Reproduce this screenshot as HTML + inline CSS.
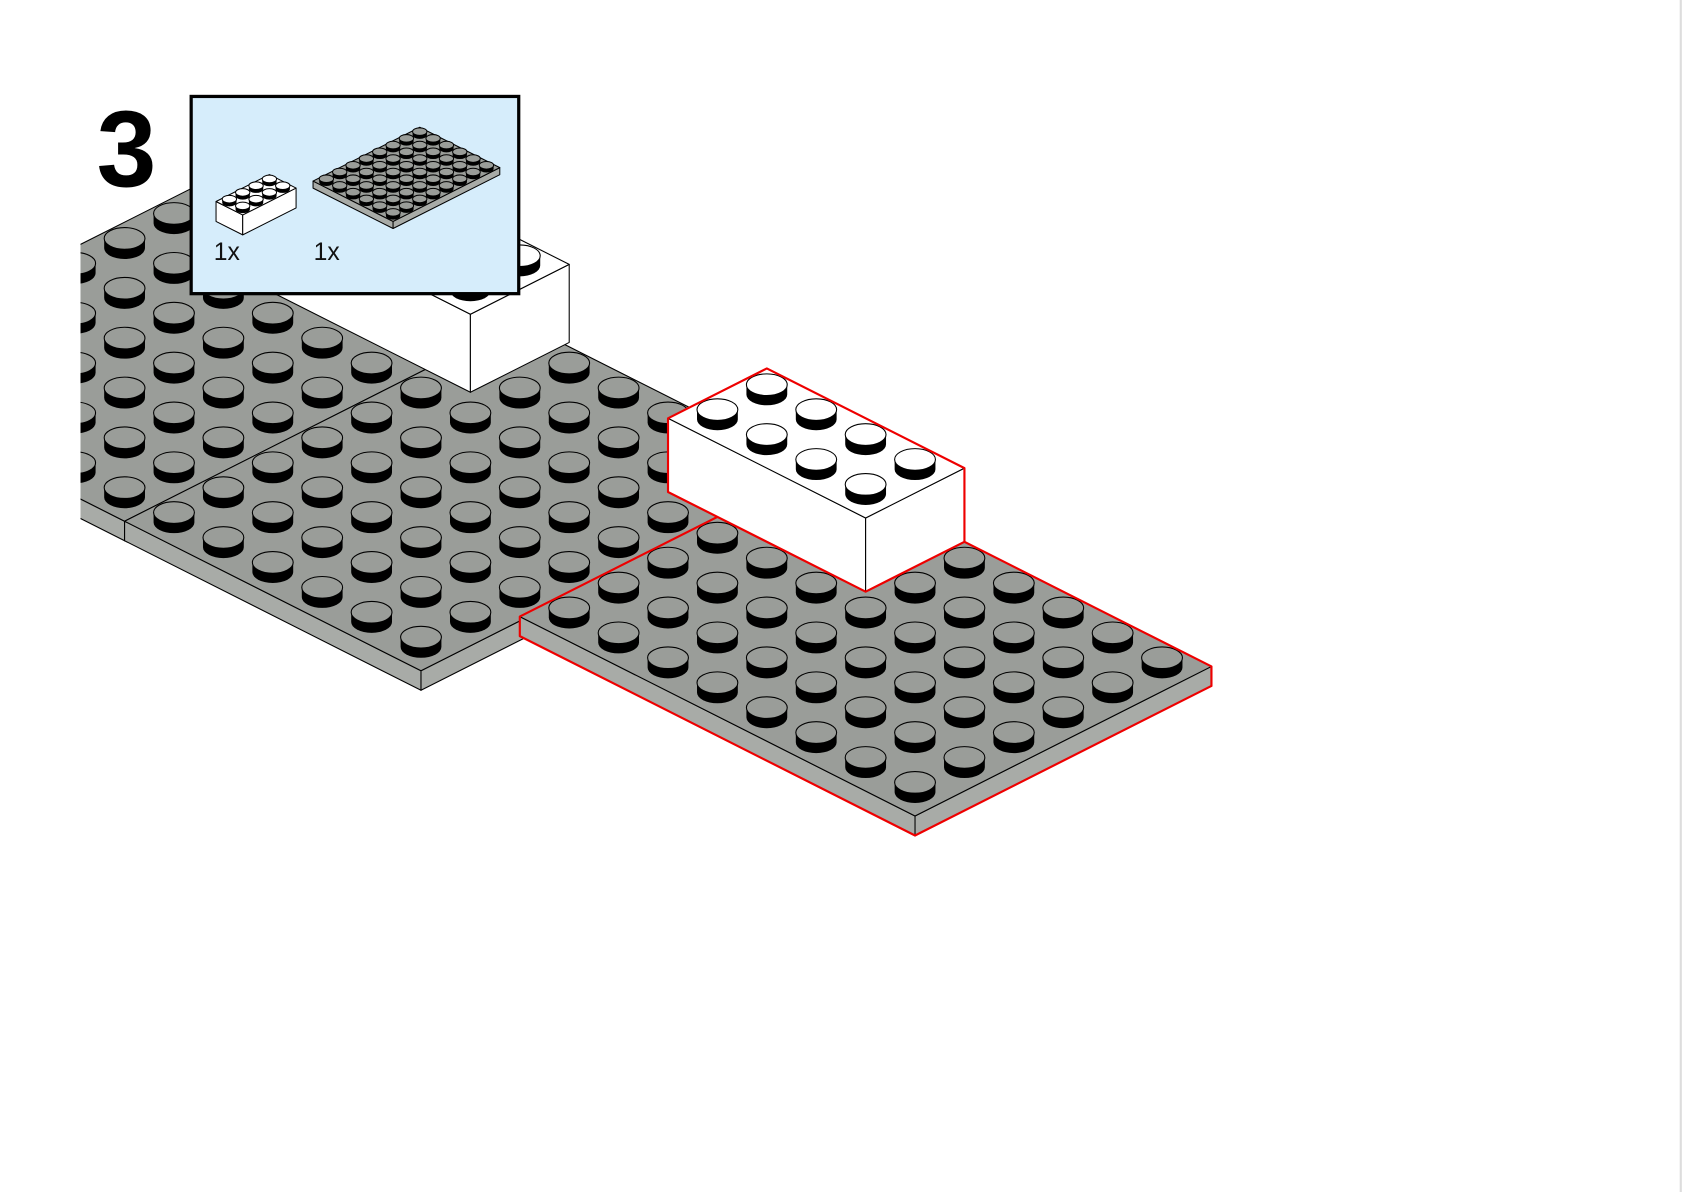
<!DOCTYPE html>
<html><head><meta charset="utf-8"><style>
html,body{margin:0;padding:0;background:#fff;width:1684px;height:1192px;overflow:hidden}
svg{display:block}
</style></head><body>
<svg id="s" width="1684" height="1192" viewBox="0 0 1568 1100" preserveAspectRatio="none" xmlns="http://www.w3.org/2000/svg">
<defs><clipPath id="cl"><rect x="75" y="0" width="1500" height="1100"/></clipPath></defs>
<rect x="0" y="0" width="1568" height="1100" fill="#fff"/>
<line x1="1565" y1="0" x2="1565" y2="1100" stroke="#ddd" stroke-width="2"/>
<g id="scene" clip-path="url(#cl)"></g>
<text x="90" y="172" font-family="Liberation Sans, sans-serif" font-weight="bold" font-size="100" fill="#000">3</text>
<rect x="178" y="89" width="305" height="182" fill="#d6edfb" stroke="#000" stroke-width="3"/>
<g id="mini"></g>
<text x="199" y="240" font-family="Liberation Sans, sans-serif" font-size="23" fill="#111">1x</text>
<text x="292" y="240" font-family="Liberation Sans, sans-serif" font-size="23" fill="#111">1x</text>
</svg>
<script>
function P(p){return p[0].toFixed(1)+','+p[1].toFixed(1);}
function box(F,ni,nj,h,top,sL,sR,studTop,outline,sw,sr){
  sw=sw||1; sr=sr||1;
  var A=[-46,-23],B=[46,-23];
  function C(a,b,dy){return [F[0]+a*A[0]+b*B[0],F[1]+a*A[1]+b*B[1]+8+(dy||0)];}
  var fr=C(-.5,-.5),le=C(ni-.5,-.5),ri=C(-.5,nj-.5),bk=C(ni-.5,nj-.5);
  var frb=C(-.5,-.5,h),leb=C(ni-.5,-.5,h),rib=C(-.5,nj-.5,h);
  var s='';
  var st='stroke="#000" stroke-width="'+sw+'" stroke-linejoin="round"';
  s+='<polygon points="'+P(le)+' '+P(fr)+' '+P(frb)+' '+P(leb)+'" fill="'+sL+'" '+st+'/>';
  s+='<polygon points="'+P(fr)+' '+P(ri)+' '+P(rib)+' '+P(frb)+'" fill="'+sR+'" '+st+'/>';
  s+='<polygon points="'+P(le)+' '+P(fr)+' '+P(ri)+' '+P(bk)+'" fill="'+top+'" '+st+'/>';
  var studs=[];
  for(var i=0;i<ni;i++)for(var j=0;j<nj;j++)studs.push([F[0]+i*A[0]+j*B[0],F[1]+i*A[1]+j*B[1]]);
  studs.sort(function(a,b){return a[1]-b[1];});
  var rx=19*sr,ry=10*sr,hh=9*sr;
  studs.forEach(function(p){
    var x=p[0],y=p[1];
    s+='<path d="M'+(x-rx)+','+y+' L'+(x-rx)+','+(y+hh)+' A'+rx+','+ry+' 0 0 0 '+(x+rx)+','+(y+hh)+' L'+(x+rx)+','+y+' Z" fill="#000"/>';
    s+='<ellipse cx="'+x+'" cy="'+y+'" rx="'+rx+'" ry="'+ry+'" fill="'+studTop+'" stroke="#000" stroke-width="'+sw+'"/>';
  });
  if(outline){
    s+='<polygon points="'+P(le)+' '+P(bk)+' '+P(ri)+' '+P(rib)+' '+P(frb)+' '+P(leb)+'" fill="none" stroke="#e00" stroke-width="2" stroke-linejoin="round"/>';
  }
  return s;
}
var G='#9a9d99',GS='#a8aba7',W='#fff';
var sc='';
sc+=box([116,450],6,8,18,G,GS,GS,G);
sc+=box([392,588],6,8,18,G,GS,GS,G);
sc+=box([438,259],4,2,72,W,W,W,W);
sc+=box([852,722],8,6,18,G,GS,GS,G,true);
sc+=box([806,447],4,2,68,W,W,W,W,true);
document.getElementById('scene').innerHTML=sc;
var m='';
m+='<g transform="translate(226,190) scale(0.27)">'+box([0,0],2,4,68,W,W,W,W,false,3.5,1.3)+'</g>';
m+='<g transform="translate(366,196) scale(0.27)">'+box([0,0],6,8,24,G,GS,GS,G,false,3.5,1.3)+'</g>';
document.getElementById('mini').innerHTML=m;
</script>
</body></html>
